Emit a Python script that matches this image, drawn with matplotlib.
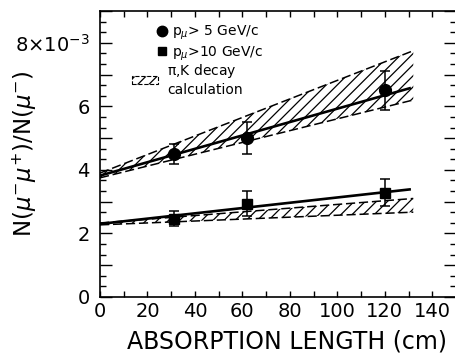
import numpy as np
import matplotlib
matplotlib.use("Agg")
import matplotlib.pyplot as plt
from matplotlib.ticker import MultipleLocator, FuncFormatter
from matplotlib.lines import Line2D
from matplotlib.patches import Patch

plt.rcParams['font.family'] = ['DejaVu Sans']
plt.rcParams['hatch.color'] = 'black'
plt.rcParams['hatch.linewidth'] = 0.9

# ---- data (ratio values in units of 1e-3) ----
length = [31, 62, 120]                      # absorption length (cm)
ratio_p5 = [4.5, 5.0, 6.5]                  # p_mu > 5 GeV/c
err_p5 = [0.33, 0.5, 0.6]
ratio_p10 = [2.47, 2.94, 3.28]              # p_mu > 10 GeV/c
err_p10 = [0.25, 0.4, 0.42]

# straight-line fits (endpoints)
fit_x = [0, 131]
fit_p5 = [3.82, 6.58]
fit_p10 = [2.30, 3.39]

# pi,K decay calculation bands (endpoints)
band_x = [0, 132]
band5_lo = [3.75, 6.20]
band5_hi = [3.90, 7.75]
band10_lo = [2.27, 2.67]
band10_hi = [2.33, 3.10]

xlabels_step = 20
SCALE = 1e-3

fig = plt.figure(figsize=(4.56, 3.6), dpi=100)
ax = fig.add_axes([100/456, 1-297/360, 356/456, 286/360])

def s(v):
    return np.asarray(v) * SCALE

dash = (0, (6, 2.5))
for lo, hi in [(band5_lo, band5_hi), (band10_lo, band10_hi)]:
    ax.fill_between(band_x, s(lo), s(hi), facecolor='none', edgecolor='black',
                    linewidth=0, hatch='///')
    ax.plot(band_x, s(lo), color='black', lw=1.1, linestyle=dash)
    ax.plot(band_x, s(hi), color='black', lw=1.1, linestyle=dash)

ax.plot(fit_x, s(fit_p5), color='black', lw=1.9, solid_capstyle='butt')
ax.plot(fit_x, s(fit_p10), color='black', lw=1.9, solid_capstyle='butt')

ax.errorbar(length, s(ratio_p5), yerr=s(err_p5), fmt='o', ms=8.5, color='black',
            capsize=3.6, elinewidth=1.1, capthick=1.1, zorder=5)
ax.errorbar(length, s(ratio_p10), yerr=s(err_p10), fmt='s', ms=7.2, color='black',
            capsize=3.6, elinewidth=1.1, capthick=1.1, zorder=5)

ax.set_xlim(0, 150)
ax.set_ylim(0, 9 * SCALE)

ax.xaxis.set_major_locator(MultipleLocator(xlabels_step))
ax.xaxis.set_minor_locator(MultipleLocator(10))
ax.yaxis.set_major_locator(MultipleLocator(1 * SCALE))
ax.yaxis.set_minor_locator(MultipleLocator(SCALE / 3))

def yfmt(v, pos):
    k = int(round(v / SCALE))
    if k % 2:
        return ""
    if k == 8:
        return r"$\mathregular{8{\times}10^{-3}}$"
    return str(k)

ax.yaxis.set_major_formatter(FuncFormatter(yfmt))

ax.tick_params(axis='x', which='both', direction='in', length=4.3, width=1.0,
               top=True, labelsize=14, pad=3.5)
ax.tick_params(axis='y', which='major', direction='in', length=8.6, width=1.0,
               right=True, labelsize=14, pad=7.5)
ax.tick_params(axis='y', which='minor', direction='in', length=4.3, width=1.0,
               right=True)
for sp in ax.spines.values():
    sp.set_linewidth(1.2)

ax.set_xlabel("ABSORPTION LENGTH (cm)", fontsize=17)
ax.xaxis.set_label_coords(0.525, -0.115)
ax.set_ylabel(r"N$(\mu^{-}\mu^{+})$/N$(\mu^{-})$", fontsize=16.5)
ax.yaxis.set_label_coords(-0.172, 0.5)

h1 = Line2D([], [], marker='o', color='black', linestyle='none', markersize=7.5)
h2 = Line2D([], [], marker='s', color='black', linestyle='none', markersize=6)
leg1 = ax.legend([h1, h2], [r"$\mathrm{p}_{\mu}$> 5 GeV/c", r"$\mathrm{p}_{\mu}$>10 GeV/c"],
                 loc='upper left', bbox_to_anchor=(0.159, 0.955), frameon=False,
                 fontsize=10, handlelength=0.8, handletextpad=0.3,
                 labelspacing=0.15, borderpad=0, borderaxespad=0)
ax.add_artist(leg1)
h3 = Patch(facecolor='none', edgecolor='black', hatch='///', linewidth=0.8,
           linestyle='--')
ax.legend([h3], ["$\\mathrm{\\pi}$,K decay\ncalculation"], loc='upper left',
          bbox_to_anchor=(0.09, 0.82), frameon=False, fontsize=10,
          handlelength=1.9, handleheight=0.5, handletextpad=0.6,
          borderpad=0, borderaxespad=0)

fig.savefig("out.png", dpi=100)
